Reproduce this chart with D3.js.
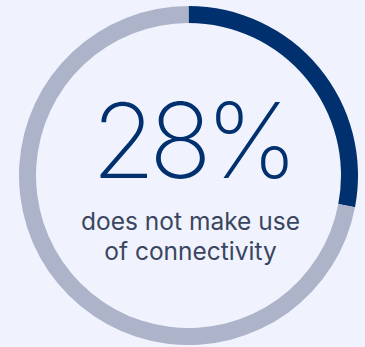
<!DOCTYPE html>
<html>
<head>
<meta charset="utf-8">
<script src="https://cdn.jsdelivr.net/npm/d3@7"></script>
<style>
  body { margin: 0; background: #f0f3fd; }
  svg { display: block; }
</style>
</head>
<body>
<div id="chart"></div>
<script>
// share of respondents
const categories = ['does not make use of connectivity', 'other'];
const values = [28, 72];
const labelLines = ['does not make use', 'of connectivity'];

const width = 365, height = 347;
const cx = 188.5, cy = 175.5;
const outerR = 169.5, thickness = 17;
const colors = ['#00306e', '#adb4c9'];

const svg = d3.select('#chart').append('svg')
    .attr('width', width)
    .attr('height', height);

const g = svg.append('g')
    .attr('transform', `translate(${cx},${cy})`);

const pie = d3.pie().sort(null).value(d => d);
const arc = d3.arc().innerRadius(outerR - thickness).outerRadius(outerR);

g.selectAll('path')
    .data(pie(values))
    .join('path')
    .attr('d', arc)
    .attr('fill', (d, i) => colors[i]);

g.append('text')
    .attr('text-anchor', 'middle')
    .attr('x', 3)
    .attr('y', 2)
    .attr('font-family', 'Inter, sans-serif')
    .attr('font-weight', 150)
    .attr('font-size', 104)
    .attr('letter-spacing', -6.5)
    .attr('fill', '#00306e')
    .text(values[0] + '%');

g.selectAll('text.sub')
    .data(labelLines)
    .join('text')
    .attr('class', 'sub')
    .attr('text-anchor', 'middle')
    .attr('x', 2)
    .attr('y', (d, i) => 54 + i * 30)
    .attr('font-family', 'Inter, sans-serif')
    .attr('font-weight', 400)
    .attr('font-size', 24.5)
    .attr('fill', '#3a4660')
    .text(d => d);
</script>
</body>
</html>
